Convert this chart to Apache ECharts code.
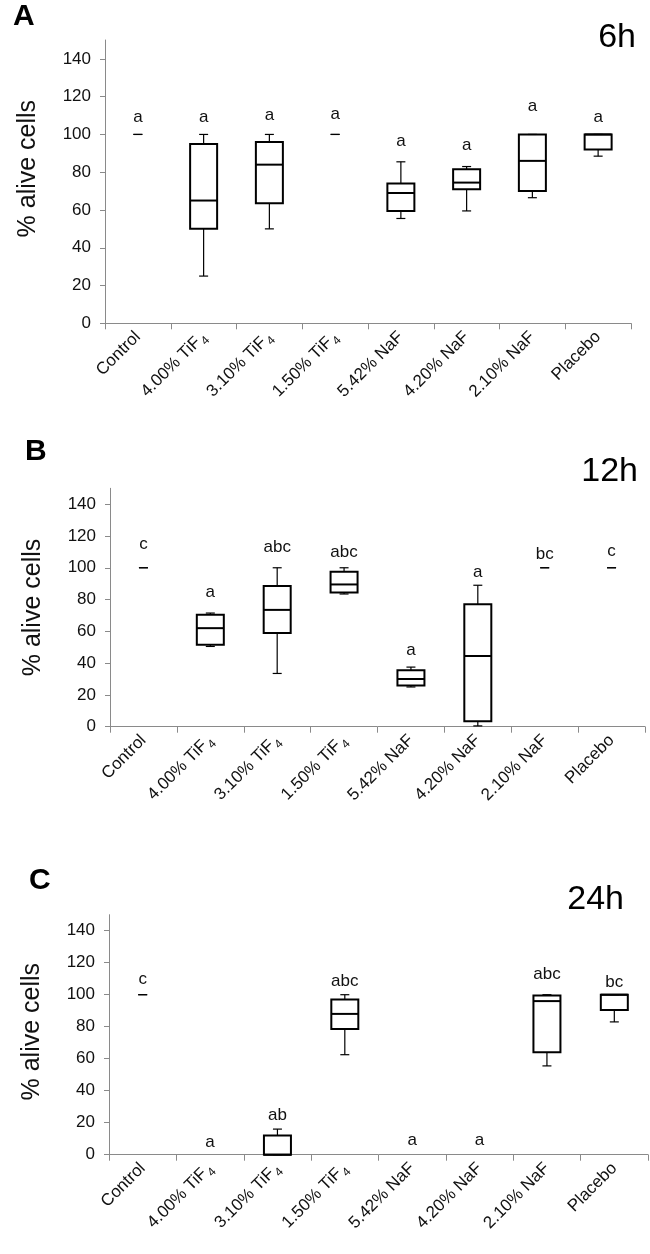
<!DOCTYPE html>
<html>
<head>
<meta charset="utf-8">
<script src="https://cdn.jsdelivr.net/npm/echarts@6/dist/echarts.min.js"></script>
<style>
html,body{margin:0;padding:0;background:#fff;}
#chart{width:650px;height:1254px;}
</style>
</head>
<body>
<div id="chart"></div>
<script>
// ---------- data ----------
const categories = ['Control', '4.00% TiF4', '3.10% TiF4', '1.50% TiF4', '5.42% NaF', '4.20% NaF', '2.10% NaF', 'Placebo'];
const yTicks = [0, 20, 40, 60, 80, 100, 120, 140];
const panelNames = ['A', 'B', 'C'];
const timeLabels = ['6h', '12h', '24h'];

// box stats per category: [min, q1, median, q3, max]; null = no box
const boxes6h = [
  [100, 100, 100, 100, 100],
  [25, 50, 65, 95, 100],
  [50, 63.5, 84, 96, 100],
  [100, 100, 100, 100, 100],
  [55.5, 59.5, 69, 74, 85.5],
  [59.5, 71, 74.5, 81.5, 83],
  [66.5, 70, 86, 100, 100],
  [88.5, 92, 100, 100, 100]
];
const boxes12h = [
  [100, 100, 100, 100, 100],
  [50.5, 51.5, 62, 70.5, 71.5],
  [33.5, 59, 73.5, 88.5, 100],
  [83.5, 84.5, 89.5, 97.5, 100],
  [25, 26, 30, 35.5, 37.5],
  [0.5, 3.5, 44.5, 77, 89],
  [100, 100, 100, 100, 100],
  [100, 100, 100, 100, 100]
];
const boxes24h = [
  [100, 100, 100, 100, 100],
  null,
  [0, 0, 0, 12, 16],
  [62.5, 78.5, 88, 97, 100],
  null,
  null,
  [55.5, 64, 96, 99.5, 100],
  [83, 90.5, 100, 100, 100]
];

// significance letters and the value at which each is printed
const letters6h = ['a', 'a', 'a', 'a', 'a', 'a', 'a', 'a'];
const letterAt6h = [109, 109, 110, 110.5, 96.5, 94, 115, 109];
const letters12h = ['c', 'a', 'abc', 'abc', 'a', 'a', 'bc', 'c'];
const letterAt12h = [115, 84.5, 113, 109.5, 48, 97, 108.5, 110.5];
const letters24h = ['c', 'a', 'ab', 'abc', 'a', 'a', 'abc', 'bc'];
const letterAt24h = [109.7, 8, 24.4, 108.5, 9, 9, 113, 108];

// ---------- chart ----------
const FONT = '"Liberation Sans", Arial, Helvetica, sans-serif';
const AXIS_GRAY = '#8a8a8a';

const panels = [
  { boxes: boxes6h, letters: letters6h, at: letterAt6h,
    grid: { left: 105, right: 19, top: 40, height: 283.3 },
    title: { left: 13, top: 2 }, time: { right: 14, top: 21 }, namePad: [0, 0, 0, 26] },
  { boxes: boxes12h, letters: letters12h, at: letterAt12h,
    grid: { left: 110, right: 5, top: 488.3, height: 238.4 },
    title: { left: 25, top: 437 }, time: { right: 12, top: 455 }, namePad: [0, 0, 0, 0] },
  { boxes: boxes24h, letters: letters24h, at: letterAt24h,
    grid: { left: 109, right: 2, top: 914.7, height: 240 },
    title: { left: 29, top: 866 }, time: { right: 26, top: 883 }, namePad: [0, 0, 0, 6] }
];

function catLabel(v) {
  if (v.indexOf('TiF4') >= 0) {
    return '{n|' + v.replace('TiF4', 'TiF') + '}{s|4}';
  }
  return '{n|' + v + '}';
}

function renderBox(params, api) {
  const x = api.value(0);
  const lo = api.value(1), q1 = api.value(2), med = api.value(3), q3 = api.value(4), hi = api.value(5);
  const pLo = api.coord([x, lo]);
  const pQ1 = api.coord([x, q1]);
  const pMed = api.coord([x, med]);
  const pQ3 = api.coord([x, q3]);
  const pHi = api.coord([x, hi]);
  const cx = pMed[0];
  const bw = 27, cw = 9;
  const children = [];
  const thin = { stroke: '#000', lineWidth: 1.2 };
  const thick = { stroke: '#000', lineWidth: 2, fill: null };
  if (hi > q3) {
    children.push({ type: 'line', shape: { x1: cx, y1: pQ3[1], x2: cx, y2: pHi[1] }, style: thin });
  }
  if (lo < q1) {
    children.push({ type: 'line', shape: { x1: cx, y1: pQ1[1], x2: cx, y2: pLo[1] }, style: thin });
  }
  children.push({ type: 'line', shape: { x1: cx - cw / 2, y1: pHi[1], x2: cx + cw / 2, y2: pHi[1] }, style: thin });
  children.push({ type: 'line', shape: { x1: cx - cw / 2, y1: pLo[1], x2: cx + cw / 2, y2: pLo[1] }, style: thin });
  if (q3 > q1) {
    children.push({ type: 'rect', shape: { x: cx - bw / 2, y: pQ3[1], width: bw, height: pQ1[1] - pQ3[1] }, style: thick });
    children.push({ type: 'line', shape: { x1: cx - bw / 2, y1: pMed[1], x2: cx + bw / 2, y2: pMed[1] }, style: thick });
  }
  return { type: 'group', children: children };
}

function makeLetterRenderer(letters) {
  return function (params, api) {
    const p = api.coord([api.value(0), api.value(1)]);
    return {
      type: 'text',
      x: p[0], y: p[1],
      style: {
        text: letters[params.dataIndex],
        fill: '#111',
        font: '17px ' + FONT,
        align: 'center',
        verticalAlign: 'middle'
      }
    };
  };
}

const option = {
  backgroundColor: '#fff',
  animation: false,
  title: [],
  grid: [],
  xAxis: [],
  yAxis: [],
  series: []
};

panels.forEach(function (p, k) {
  option.title.push({
    text: panelNames[k], left: p.title.left, top: p.title.top, padding: 0,
    textStyle: { fontFamily: FONT, fontSize: 30, fontWeight: 'bold', color: '#000' }
  });
  option.title.push({
    text: timeLabels[k], right: p.time.right, top: p.time.top, padding: 0,
    textStyle: { fontFamily: FONT, fontSize: 34, fontWeight: 'normal', color: '#000' }
  });
  option.grid.push(Object.assign({ containLabel: false }, p.grid));
  option.xAxis.push({
    type: 'category', gridIndex: k, data: categories, boundaryGap: true,
    axisLine: { lineStyle: { color: AXIS_GRAY, width: 1 } },
    axisTick: { show: true, length: 6, lineStyle: { color: AXIS_GRAY } },
    axisLabel: {
      rotate: 45, interval: 0, margin: 11, formatter: catLabel,
      rich: {
        n: { fontFamily: FONT, fontSize: 17, color: '#111', lineHeight: 24, verticalAlign: 'middle' },
        s: { fontFamily: FONT, fontSize: 12, color: '#111', lineHeight: 24, verticalAlign: 'bottom', padding: [0, 0, 0, 1] }
      }
    },
    splitLine: { show: false }
  });
  option.yAxis.push({
    type: 'value', gridIndex: k, min: 0, max: 150, interval: 20,
    name: '% alive cells', nameLocation: 'middle', nameGap: 64,
    nameTextStyle: { fontFamily: FONT, fontSize: 25, color: '#111', padding: p.namePad },
    axisLine: { show: true, lineStyle: { color: AXIS_GRAY, width: 1 } },
    axisTick: { show: true, length: 5, lineStyle: { color: AXIS_GRAY }, customValues: yTicks },
    axisLabel: { fontFamily: FONT, fontSize: 17, color: '#111', margin: 14, customValues: yTicks },
    splitLine: { show: false }
  });
  const boxData = [];
  p.boxes.forEach(function (b, i) { if (b) boxData.push([i].concat(b)); });
  option.series.push({
    type: 'custom', xAxisIndex: k, yAxisIndex: k,
    renderItem: renderBox,
    encode: { x: 0, y: [1, 2, 3, 4, 5] },
    data: boxData, silent: true
  });
  option.series.push({
    type: 'custom', xAxisIndex: k, yAxisIndex: k,
    renderItem: makeLetterRenderer(p.letters),
    encode: { x: 0, y: 1 },
    data: p.at.map(function (v, i) { return [i, v]; }), silent: true
  });
});

const chart = echarts.init(document.getElementById('chart'), null, { renderer: 'canvas' });
chart.setOption(option);
</script>
</body>
</html>
